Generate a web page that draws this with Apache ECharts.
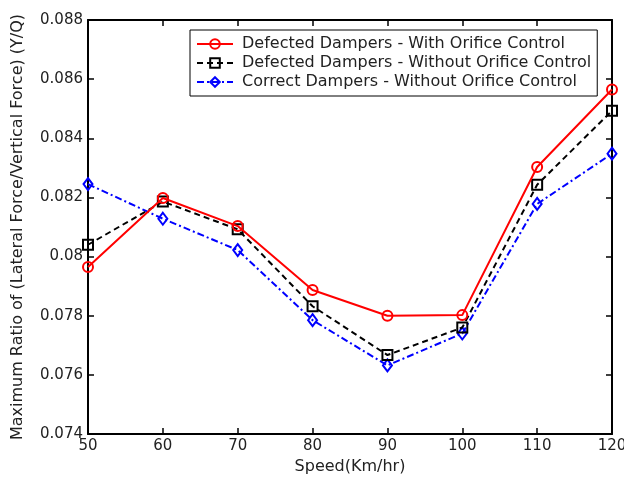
<!DOCTYPE html>
<html>
<head>
<meta charset="utf-8">
<script src="https://cdn.jsdelivr.net/npm/echarts@6/dist/echarts.min.js"></script>
<style>
  html, body { margin: 0; padding: 0; background: #fff; }
  #main { width: 624px; height: 482px; }
</style>
</head>
<body>
<div id="main"></div>
<script>
var speeds = [50, 60, 70, 80, 90, 100, 110, 120];
var withOrifice = [0.07965, 0.08198, 0.08103, 0.07887, 0.07800, 0.07802, 0.08303, 0.08565];
var withoutOrifice = [0.08040, 0.08186, 0.08092, 0.07832, 0.07667, 0.07760, 0.08243, 0.08493];
var correctDampers = [0.08245, 0.08128, 0.08022, 0.07785, 0.07632, 0.07740, 0.08178, 0.08348];
var seriesNames = [
    'Defected Dampers - With Orifice Control',
    'Defected Dampers - Without Orifice Control',
    'Correct Dampers - Without Orifice Control'
];

function pairs(vals) {
    return speeds.map(function (s, i) { return [s, vals[i]]; });
}

var font = 'DejaVu Sans, Verdana, sans-serif';
var txt = '#222';
var myChart = echarts.init(document.getElementById('main'));

myChart.setOption({
    animation: false,
    backgroundColor: '#fff',
    grid: { left: 88, right: 12, top: 20, bottom: 48, outerBoundsMode: 'none' },
    legend: {
        orient: 'vertical',
        left: 190,
        top: 30,
        padding: [6, 6, 6, 6],
        itemGap: 3,
        itemWidth: 36,
        itemHeight: 12,
        borderColor: '#000',
        borderWidth: 1,
        borderRadius: 0,
        backgroundColor: '#fff',
        textStyle: { fontFamily: font, fontSize: 16, color: txt, padding: [0, 0, 0, 4] },
        data: seriesNames
    },
    xAxis: [{
        type: 'value',
        min: 50, max: 120, interval: 10,
        name: 'Speed(Km/hr)',
        nameLocation: 'middle',
        nameGap: 24,
        nameTextStyle: { fontFamily: font, fontSize: 16, color: txt },
        axisLine: { lineStyle: { color: '#000', width: 2 } },
        axisTick: { inside: true, length: 6, lineStyle: { color: '#000', width: 1.5 } },
        axisLabel: { fontFamily: font, fontSize: 15, color: txt, margin: 5 },
        splitLine: { show: false }
    }, {
        type: 'value',
        position: 'top',
        min: 50, max: 120, interval: 10,
        axisLine: { show: true, lineStyle: { color: '#000', width: 2 } },
        axisTick: { show: true, inside: true, length: 6, lineStyle: { color: '#000', width: 1.5 } },
        axisLabel: { show: false },
        splitLine: { show: false }
    }],
    yAxis: [{
        type: 'value',
        min: 0.074, max: 0.088, interval: 0.002,
        name: 'Maximum Ratio of (Lateral Force/Vertical Force) (Y/Q)',
        nameLocation: 'middle',
        nameGap: 62,
        nameTextStyle: { fontFamily: font, fontSize: 16, color: txt },
        axisLine: { show: true, lineStyle: { color: '#000', width: 2 } },
        axisTick: { show: true, inside: true, length: 6, lineStyle: { color: '#000', width: 1.5 } },
        axisLabel: {
            fontFamily: font, fontSize: 15, color: txt, margin: 5,
            formatter: function (v) { return String(parseFloat(v.toFixed(3))); }
        },
        splitLine: { show: false }
    }, {
        type: 'value',
        position: 'right',
        min: 0.074, max: 0.088, interval: 0.002,
        axisLine: { show: true, lineStyle: { color: '#000', width: 2 } },
        axisTick: { show: true, inside: true, length: 6, lineStyle: { color: '#000', width: 1.5 } },
        axisLabel: { show: false },
        splitLine: { show: false }
    }],
    series: [
        {
            name: seriesNames[0],
            type: 'line',
            data: pairs(withOrifice),
            symbol: 'circle',
            symbolSize: 10,
            color: '#ff0000',
            lineStyle: { color: '#ff0000', width: 2, type: 'solid' },
            itemStyle: { color: 'rgba(255,255,255,0)', borderColor: '#ff0000', borderWidth: 2 },
            z: 3
        },
        {
            name: seriesNames[1],
            type: 'line',
            data: pairs(withoutOrifice),
            symbol: 'rect',
            symbolSize: 10,
            color: '#000',
            lineStyle: { color: '#000', width: 2, type: [6, 4] },
            itemStyle: { color: 'rgba(255,255,255,0)', borderColor: '#000', borderWidth: 2 },
            z: 2
        },
        {
            name: seriesNames[2],
            type: 'line',
            data: pairs(correctDampers),
            symbol: 'diamond',
            symbolSize: [9, 12],
            color: '#0000ff',
            lineStyle: { color: '#0000ff', width: 2, type: [7, 3, 2, 3] },
            itemStyle: { color: 'rgba(255,255,255,0)', borderColor: '#0000ff', borderWidth: 2 },
            z: 1
        }
    ]
}, true);
</script>
</body>
</html>
